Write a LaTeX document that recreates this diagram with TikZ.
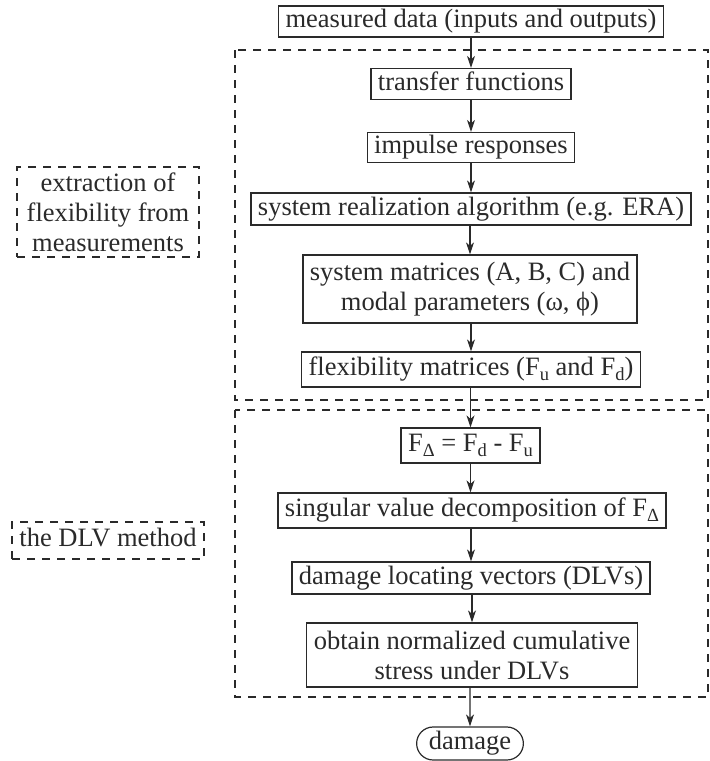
\documentclass[tikz,border=0pt]{standalone}
\usepackage{fontspec}
\setmainfont{Liberation Serif}
\usetikzlibrary{arrows.meta,shapes.misc}
\definecolor{ink}{HTML}{2A2A2A}
\newcommand\sbs[1]{\raisebox{-0.4ex}{\fontsize{18.5}{18.5}\selectfont #1}}
\begin{document}
\begin{tikzpicture}[x=1pt,y=-1pt,
 every node/.style={font=\fontsize{26.5}{30}\selectfont, text=ink},
 stepbox/.style={draw=ink, line width=1.2pt, inner xsep=7pt, inner ysep=0pt, text height=18pt, text depth=6pt},
 multibox/.style={draw=ink, line width=1.2pt, inner xsep=7pt, inner ysep=0pt, align=center},
 flow/.style={draw=ink, line width=1.2pt, -{Stealth[length=12pt,width=8pt,inset=3.5pt]}},
 region/.style={draw=ink, line width=1.2pt, dash pattern=on 8pt off 7pt},
 labelbox/.style={multibox, dash pattern=on 8pt off 7pt},
]
\useasboundingbox (0,0) rectangle (710,761);
\draw[region] (235,50) rectangle (708,400);
\draw[region] (235,410) rectangle (708,697);

\node[stepbox, minimum height=31pt] (meas) at (471,21.5) {measured data (inputs and outputs)};
\node[stepbox, minimum height=31pt] (tf) at (471,84) {transfer functions};
\node[stepbox, minimum height=30pt] (imp) at (471,147.5) {impulse responses};
\node[stepbox, minimum height=32pt] (sra) at (471,209) {system realization algorithm (e.g. ERA)};
\node[multibox, minimum height=68pt] (sysm) at (470,289) {system matrices (A, B, C) and\\modal parameters (ω, ϕ)};
\node[stepbox, minimum height=35pt] (flex) at (471,369.5) {flexibility matrices (F\sbs{u} and F\sbs{d})};
\node[stepbox, minimum height=35pt] (fdel) at (470.5,445.5) {F\sbs{Δ} = F\sbs{d} - F\sbs{u}};
\node[stepbox, minimum height=35pt] (svd) at (472,510.5) {singular value decomposition of F\sbs{Δ}};
\node[stepbox, minimum height=32pt] (dlv) at (471,578) {damage locating vectors (DLVs)};
\node[multibox, minimum height=64pt] (obt) at (472,655) {obtain normalized cumulative\\stress under DLVs};
\node[stepbox, rounded rectangle, minimum height=33pt] (dmg) at (470,743.5) {damage};

\node[labelbox, minimum width=182pt, minimum height=90pt] (lab1) at (108,212) {extraction of\\flexibility from\\measurements};
\node[labelbox, minimum width=192pt, minimum height=37pt, text height=18pt, text depth=6pt] (lab2) at (108,540.5) {the DLV method};

\draw[flow] (meas) -- (tf);
\draw[flow] (tf) -- (imp);
\draw[flow] (imp) -- (sra);
\draw[flow] (sra.south -| sysm.north) -- (sysm);
\draw[flow] (sysm.south -| flex.north) -- (flex);
\draw[flow] (flex.south -| fdel.north) -- (fdel);
\draw[flow] (fdel) -- (fdel |- svd.north);
\draw[flow] (svd.south -| dlv.north) -- (dlv);
\draw[flow] (dlv.south -| obt.north) -- (obt);
\draw[flow] (obt.south -| dmg.north) -- (dmg);
\end{tikzpicture}
\end{document}
